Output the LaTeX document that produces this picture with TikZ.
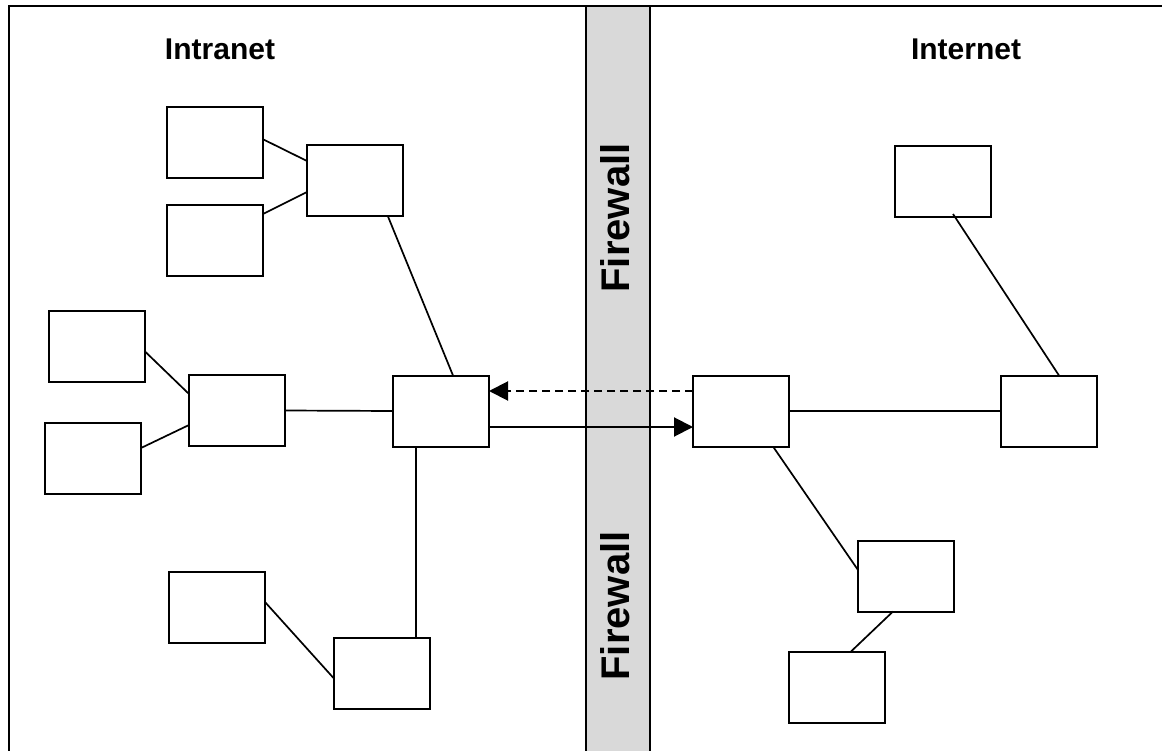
\documentclass[tikz,border=0pt]{standalone}
\usepackage{fontspec}
\setmainfont{Liberation Sans}
\usetikzlibrary{arrows.meta}
\begin{document}
\begin{tikzpicture}[x=1pt,y=-1pt,
  box/.style={draw=black,line width=2pt,fill=white,minimum width=96pt,minimum height=71pt,inner sep=0pt,outer sep=0pt},
  link/.style={draw=black,line width=1.7pt},
  title/.style={font=\bfseries\fontsize{30}{36}\selectfont,anchor=base},
  fwtext/.style={font=\bfseries\fontsize{40}{48}\selectfont,anchor=base,rotate=90},
  tip/.style={-{Triangle[length=19pt,width=19pt]}}]
\useasboundingbox (0,0) rectangle (1162,751);
% firewall band
\fill[black!15] (586,6.5) rectangle (650,751);
\draw[line width=2pt] (586,751) -- (586,6.5);
\draw[line width=2pt] (650,751) -- (650,6.5);
% frame
\draw[line width=2pt] (8.5,751) -- (8.5,6.5) -- (1162,6.5);
% titles
\node[title] (intranet) at (220,60) {Intranet};
\node[title] (internet) at (966,60) {Internet};
\node[fwtext] (fw1) at (629,218) {Firewall};
\node[fwtext] (fw2) at (629,606) {Firewall};
% boxes
\node[box] (A) at (214.5,142.5) {};
\node[box] (B) at (215,241) {};
\node[box] (C) at (355,181) {};
\node[box] (D) at (96.5,346.5) {};
\node[box] (E) at (93,458.5) {};
\node[box] (F) at (237,410.5) {};
\node[box] (G) at (441,411) {};
\node[box] (H) at (217,607.5) {};
\node[box] (I) at (381.5,673.5) {};
\node[box] (J) at (741,411) {};
\node[box] (K) at (1049,411) {};
\node[box] (L) at (942.5,181.5) {};
\node[box] (M) at (906,576) {};
\node[box] (N) at (836.5,687) {};
% links
\draw[link] ([yshift=3.5pt]A.east) -- ([yshift=20pt]C.west);
\draw[link] ([yshift=27pt]B.east) -- ([yshift=-11pt]C.west);
\draw[link] ([xshift=33pt]C.south) -- ([xshift=12pt]G.north);
\draw[link] ([yshift=-4.5pt]D.east) -- ([yshift=16.5pt]F.west);
\draw[link] ([yshift=10.5pt]E.east) -- ([yshift=-14.5pt]F.west);
\draw[link] (F.east) -- (G.west);
\draw[link] ([xshift=-25pt]G.south) -- ([xshift=-25pt]G.south |- I.north);
\draw[link] ([yshift=5.5pt]H.east) -- ([yshift=-4.5pt]I.west);
\draw[link,tip,dash pattern=on 8pt off 5pt,line width=2pt] ([yshift=20pt]J.west) -- ([yshift=20pt]G.east);
\draw[link,tip,line width=2pt] ([yshift=-16pt]G.east) -- ([yshift=-16pt]J.west);
\draw[link] (J.east) -- (K.west);
\draw[link] ([xshift=10.5pt,yshift=3pt]L.south) -- ([xshift=10pt]K.north);
\draw[link] ([xshift=32pt]J.south) -- ([yshift=6pt]M.west);
\draw[link] ([xshift=-13pt]M.south) -- ([xshift=14.5pt]N.north);
\end{tikzpicture}
\end{document}
